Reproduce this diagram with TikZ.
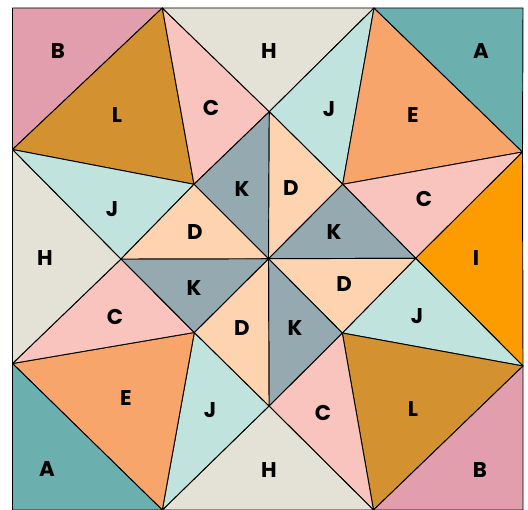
\documentclass[tikz,border=0pt]{standalone}
\usepackage{fontspec}
\setmainfont{Poppins}
\definecolor{colA}{HTML}{6BAFAF}
\definecolor{colB}{HTML}{E29EAC}
\definecolor{colC}{HTML}{F9C4BE}
\definecolor{colD}{HTML}{FDD3B0}
\definecolor{colE}{HTML}{F8A56C}
\definecolor{colH}{HTML}{E4E2D6}
\definecolor{colI}{HTML}{FD9C00}
\definecolor{colJ}{HTML}{C0E3DD}
\definecolor{colK}{HTML}{95A9B0}
\definecolor{colL}{HTML}{D4912F}
\begin{document}
\begin{tikzpicture}[
  x=0.75pt, y=-0.75pt,
  patch/.style={draw=black, line width=0.7pt, line join=round},
  lbl/.style={font=\fontsize{16}{18}\selectfont\bfseries, inner sep=0pt}
]
\useasboundingbox (0,0) rectangle (528,510);
% outer corners and edge points
\coordinate (tl) at (12.5,8);
\coordinate (tr) at (523,8);
\coordinate (br) at (523,510);
\coordinate (bl) at (12.5,510);
\coordinate (t1) at (162.3,8);
\coordinate (t2) at (374,8);
\coordinate (l1) at (12.5,149.5);
\coordinate (l2) at (12.5,363.5);
\coordinate (r1) at (522.5,152);
\coordinate (r2) at (523,366);
\coordinate (b1) at (162.3,510);
\coordinate (b2) at (373.5,510);
% inner diamond
\coordinate (N) at (269.3,111.7);
\coordinate (E) at (415.7,258.3);
\coordinate (S) at (269,406);
\coordinate (W) at (121,259);
\coordinate (O) at (268.5,258.7);
\coordinate (p1) at (194,184.3);
\coordinate (p2) at (342.7,184.3);
\coordinate (p3) at (342.3,333);
\coordinate (p4) at (194.3,332.5);

% outer ring of patches
\foreach \a/\b/\c/\col in {
  l1/tl/t1/colB, p1/l1/t1/colL, t1/p1/N/colC, t1/t2/N/colH,
  t2/N/p2/colJ, t2/p2/r1/colE, t2/tr/r1/colA, p2/r1/E/colC,
  r1/E/r2/colI, E/r2/p3/colJ, p3/r2/b2/colL, r2/br/b2/colB,
  p3/b2/S/colC, b2/S/b1/colH, S/b1/p4/colJ, p4/b1/l2/colE,
  l2/bl/b1/colA, p4/l2/W/colC, l2/W/l1/colH, W/l1/p1/colJ}
  \filldraw[patch, fill=\col] (\a) -- (\b) -- (\c) -- cycle;

% pinwheel
\foreach \a/\b/\col in {
  p1/N/colK, N/p2/colD, p2/E/colK, E/p3/colD,
  p3/S/colK, S/p4/colD, p4/W/colK, W/p1/colD}
  \filldraw[patch, fill=\col] (O) -- (\a) -- (\b) -- cycle;

% labels
\node[lbl] (bTL) at (58,51) {B};
\node[lbl] (lTL) at (117,115) {L};
\node[lbl] (cT) at (211,108) {C};
\node[lbl] (hT) at (269,51) {H};
\node[lbl] (jT) at (329,109) {J};
\node[lbl] (eTR) at (413,115) {E};
\node[lbl] (aTR) at (481,51) {A};
\node[lbl] (jL) at (112,209) {J};
\node[lbl] (k1) at (242,189) {K};
\node[lbl] (d1) at (291,188) {D};
\node[lbl] (cR) at (424,199) {C};
\node[lbl] (d2) at (195,232) {D};
\node[lbl] (k2) at (334,232) {K};
\node[lbl] (hL) at (45,258) {H};
\node[lbl] (iR) at (476,258) {I};
\node[lbl] (k3) at (194,288) {K};
\node[lbl] (d3) at (344,284) {D};
\node[lbl] (cL) at (115,317) {C};
\node[lbl] (jR) at (417,316) {J};
\node[lbl] (d4) at (242,328) {D};
\node[lbl] (k4) at (295,328) {K};
\node[lbl] (eBL) at (126,398) {E};
\node[lbl] (jB) at (210,410) {J};
\node[lbl] (cB) at (323,413) {C};
\node[lbl] (lBR) at (413,409) {L};
\node[lbl] (aBL) at (47,469) {A};
\node[lbl] (hB) at (269,470) {H};
\node[lbl] (bBR) at (480,470) {B};
\end{tikzpicture}
\end{document}
